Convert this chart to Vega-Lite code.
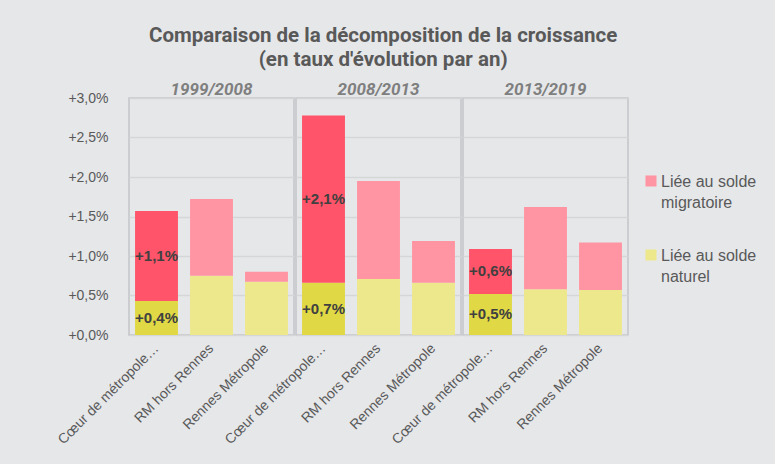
{
  "$schema": "https://vega.github.io/schema/vega-lite/v6.json",
  "background": "#e6e7e9",
  "padding": {"left": 55, "top": 25, "right": 18, "bottom": 23},
  "title": {
    "text": ["Comparaison de la décomposition de la croissance", "(en taux d'évolution par an)"],
    "font": "Roboto",
    "fontSize": 20.5,
    "fontWeight": "bold",
    "color": "#595959",
    "lineHeight": 24,
    "anchor": "middle",
    "dx": -23,
    "offset": 11
  },
  "data": {
    "values": [
      {"period": "1999/2008", "zone": "Cœur de métropole…", "type": "Liée au solde naturel", "value": 0.0043},
      {"period": "1999/2008", "zone": "Cœur de métropole…", "type": "Liée au solde migratoire", "value": 0.0114},
      {"period": "1999/2008", "zone": "RM hors Rennes", "type": "Liée au solde naturel", "value": 0.0075},
      {"period": "1999/2008", "zone": "RM hors Rennes", "type": "Liée au solde migratoire", "value": 0.0097},
      {"period": "1999/2008", "zone": "Rennes Métropole", "type": "Liée au solde naturel", "value": 0.00675},
      {"period": "1999/2008", "zone": "Rennes Métropole", "type": "Liée au solde migratoire", "value": 0.00125},
      {"period": "2008/2013", "zone": "Cœur de métropole…", "type": "Liée au solde naturel", "value": 0.0066},
      {"period": "2008/2013", "zone": "Cœur de métropole…", "type": "Liée au solde migratoire", "value": 0.0212},
      {"period": "2008/2013", "zone": "RM hors Rennes", "type": "Liée au solde naturel", "value": 0.0071},
      {"period": "2008/2013", "zone": "RM hors Rennes", "type": "Liée au solde migratoire", "value": 0.0124},
      {"period": "2008/2013", "zone": "Rennes Métropole", "type": "Liée au solde naturel", "value": 0.0066},
      {"period": "2008/2013", "zone": "Rennes Métropole", "type": "Liée au solde migratoire", "value": 0.0053},
      {"period": "2013/2019", "zone": "Cœur de métropole…", "type": "Liée au solde naturel", "value": 0.0052},
      {"period": "2013/2019", "zone": "Cœur de métropole…", "type": "Liée au solde migratoire", "value": 0.0057},
      {"period": "2013/2019", "zone": "RM hors Rennes", "type": "Liée au solde naturel", "value": 0.0058},
      {"period": "2013/2019", "zone": "RM hors Rennes", "type": "Liée au solde migratoire", "value": 0.0104},
      {"period": "2013/2019", "zone": "Rennes Métropole", "type": "Liée au solde naturel", "value": 0.0057},
      {"period": "2013/2019", "zone": "Rennes Métropole", "type": "Liée au solde migratoire", "value": 0.0060}
    ]
  },
  "transform": [
    {"stack": "value", "groupby": ["period", "zone"], "sort": [{"field": "type", "order": "descending"}], "as": ["v0", "v1"]},
    {"calculate": "(datum.v0 + datum.v1) / 2", "as": "vmid"}
  ],
  "facet": {
    "column": {
      "field": "period",
      "type": "nominal",
      "title": null,
      "header": {
        "labelFont": "Roboto",
        "labelFontSize": 17,
        "labelFontStyle": "italic",
        "labelFontWeight": "bold",
        "labelColor": "#7f7f7f",
        "labelPadding": -2
      }
    }
  },
  "spacing": 0,
  "spec": {
    "width": 165,
    "height": 237,
    "layer": [
      {
        "mark": {"type": "bar"},
        "encoding": {
          "x": {
            "field": "zone",
            "type": "nominal",
            "sort": ["Cœur de métropole…", "RM hors Rennes", "Rennes Métropole"],
            "scale": {"paddingInner": 0.22, "paddingOuter": 0.11},
            "axis": {"title": null, "labelAngle": -45, "labelAlign": "right", "labelBaseline": "middle", "ticks": false, "domain": false, "labelPadding": 10, "labelLimit": 250, "labelFontSize": 14, "labelColor": "#595959"}
          },
          "y": {
            "field": "v0",
            "type": "quantitative",
            "scale": {"domain": [0, 0.03], "nice": false},
            "axis": {"title": null, "values": [0, 0.005, 0.01, 0.015, 0.02, 0.025, 0.03], "tickCount": 7, "labelOverlap": false, "format": "+.1%", "domain": false, "ticks": false, "labelPadding": 20, "labelFontSize": 14, "labelColor": "#595959", "gridColor": "#d5d6d8", "gridWidth": 1.5}
          },
          "y2": {"field": "v1"},
          "color": {
            "field": "type",
            "type": "nominal",
            "scale": {"domain": ["Liée au solde migratoire", "Liée au solde naturel"], "range": ["#ff95a2", "#eee88c"]},
            "legend": {
              "title": null,
              "orient": "none",
              "legendX": 514,
              "legendY": 68,
              "labelExpr": "datum.value == 'Liée au solde migratoire' ? ['Liée au solde', 'migratoire'] : ['Liée au solde', 'naturel']",
              "labelFontSize": 16,
              "labelColor": "#595959",
              "labelBaseline": "top",
              "symbolType": "M-1,0.27H1V2.27H-1Z",
              "symbolSize": 121,
              "symbolStrokeWidth": 0,
              "rowPadding": 29,
              "labelOffset": 2
            },
            "condition": [
              {"test": "datum.zone === 'Cœur de métropole…' && datum.type === 'Liée au solde migratoire'", "value": "#ff5469"},
              {"test": "datum.zone === 'Cœur de métropole…' && datum.type === 'Liée au solde naturel'", "value": "#e0d845"}
            ]
          }
        }
      },
      {
        "transform": [{"filter": "datum.zone === 'Cœur de métropole…'"}],
        "mark": {"type": "text", "fontSize": 15, "fontWeight": "bold", "color": "#404040", "font": "Liberation Sans"},
        "encoding": {
          "x": {"field": "zone", "type": "nominal", "sort": ["Cœur de métropole…", "RM hors Rennes", "Rennes Métropole"]},
          "y": {"field": "vmid", "type": "quantitative"},
          "text": {"field": "value", "type": "quantitative", "format": "+.1%"}
        }
      }
    ]
  },
  "config": {
    "font": "Liberation Sans",
    "view": {"stroke": "#c4c5c7", "strokeWidth": 1.5},
    "style": {"guide-label": {"lineHeight": 21}},
    "locale": {"number": {"decimal": ",", "thousands": "\u00a0", "grouping": [3], "currency": ["", "\u00a0€"]}}
  }
}
